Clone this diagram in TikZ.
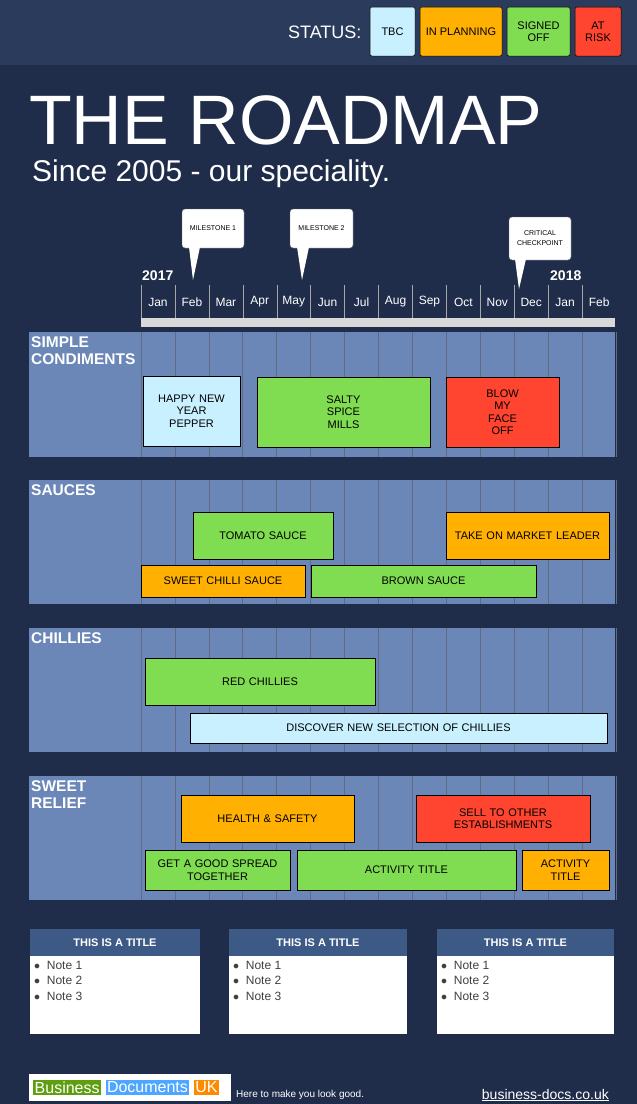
\documentclass[tikz,border=0pt]{standalone}
\usepackage{fontspec}
\setmainfont{Liberation Sans}
\definecolor{bg}{HTML}{1F2D4A}
\definecolor{topbar}{HTML}{2A3B5C}
\definecolor{lane}{HTML}{6A87B7}
\definecolor{cblue}{HTML}{C8F0FF}
\definecolor{corange}{HTML}{FFB000}
\definecolor{cgreen}{HTML}{80DC50}
\definecolor{cred}{HTML}{FF4530}
\definecolor{nhead}{HTML}{3D5A86}
\definecolor{lgreen}{HTML}{5E9E10}
\definecolor{lblue}{HTML}{4DA6FF}
\definecolor{lorange}{HTML}{FF8A00}
\begin{document}
\begin{tikzpicture}[x=1pt,y=-1pt,
  bar/.style={draw=black,line width=0.6pt,align=center,font=\fontsize{11}{12.5}\selectfont,inner sep=1pt},
  stat/.style={draw=black,line width=0.5pt,rounded corners=2pt,align=center,font=\fontsize{11}{12}\selectfont,inner sep=0},
  lanelbl/.style={anchor=north west,white,font=\bfseries\fontsize{15.5}{17}\selectfont,align=left,inner sep=0},
  callout/.style={fill=white,draw=black!60,rounded corners=3pt,align=center,font=\fontsize{7}{10}\selectfont}]
\fill[bg] (0,0) rectangle (637,1104);
\fill[topbar] (0,0) rectangle (637,65);
\useasboundingbox (0,0) rectangle (637,1104);
% status
\node[white,font=\fontsize{18}{19}\selectfont,anchor=east] (st) at (365,32) {STATUS:};
\node[stat,fill=cblue,minimum width=45pt,minimum height=49pt] (s1) at (392.5,31.5) {TBC};
\node[stat,fill=corange,minimum width=82pt,minimum height=49pt] (s2) at (461,31.5) {IN PLANNING};
\node[stat,fill=cgreen,minimum width=63pt,minimum height=49pt] (s3) at (538.5,31.5) {SIGNED\\OFF};
\node[stat,fill=cred,minimum width=46pt,minimum height=49pt] (s4) at (598,31.5) {AT\\RISK};
% title
\node[white,anchor=west,inner sep=0,font=\fontsize{70}{74}\selectfont] (title) at (29,120) {THE ROADMAP};
\node[white,anchor=west,inner sep=0,font=\fontsize{30}{32}\selectfont] (sub) at (32,174) {Since 2005 - our speciality.};
% years
\node[white,font=\bfseries\fontsize{14}{15}\selectfont,anchor=west,inner sep=0] (y1) at (142,276) {2017};
\node[white,font=\bfseries\fontsize{14}{15}\selectfont,anchor=west,inner sep=0] (y2) at (550,276) {2018};
% months
\foreach \m [count=\i from 0] in {Jan,Feb,Mar,Apr,May,Jun,Jul,Aug,Sep,Oct,Nov,Dec,Jan,Feb}{
  \pgfmathsetmacro\xa{141+\i*33.93}
  \node[white,font=\fontsize{12}{13}\selectfont] (m\i) at (\xa+17,302) {\m};
  \draw[gray!70] (\xa,285) -- (\xa,327);
}
\fill[black!15] (141,318) rectangle (615,327);
% lanes
\foreach \ya/\yb in {332/457,480/604,628/752,776/900}{
  \fill[lane] (29,\ya) rectangle (615,\yb);
  \foreach \i in {0,...,14}{\draw[bg!70,line width=0.6pt] (141+\i*33.93,\ya) -- (141+\i*33.93,\yb);}
}
\node[lanelbl] (l1) at (31,336) {SIMPLE\\CONDIMENTS};
\node[lanelbl] (l2) at (31,484) {SAUCES};
\node[lanelbl] (l3) at (31,632) {CHILLIES};
\node[lanelbl] (l4) at (31,780) {SWEET\\RELIEF};
% bars
\newcommand\bb[7]{\node[bar,fill=#6,minimum width=#3-#2,minimum height=#5-#4,text width=#3-#2-6] (#1) at ({(#2+#3)/2},{(#4+#5)/2}) {#7};}
\bb{b1}{143}{240}{376}{446}{cblue}{HAPPY NEW\\YEAR\\PEPPER}
\bb{b2}{257}{430}{377}{447}{cgreen}{SALTY\\SPICE\\MILLS}
\bb{b3}{446}{559}{377}{447}{cred}{BLOW\\MY\\FACE\\OFF}
\bb{b4}{193}{333}{512}{559}{cgreen}{TOMATO SAUCE}
\bb{b5}{446}{609}{512}{559}{corange}{TAKE ON MARKET LEADER}
\bb{b6}{141}{305}{565}{597}{corange}{SWEET CHILLI SAUCE}
\bb{b7}{311}{536}{565}{597}{cgreen}{BROWN SAUCE}
\bb{b8}{145}{375}{658}{705}{cgreen}{RED CHILLIES}
\bb{b9}{190}{607}{713}{743}{cblue}{DISCOVER NEW SELECTION OF CHILLIES}
\bb{b10}{181}{354}{795}{842}{corange}{HEALTH \& SAFETY}
\bb{b11}{416}{590}{795}{842}{cred}{SELL TO OTHER\\ESTABLISHMENTS}
\bb{b12}{145}{290}{850}{890}{cgreen}{GET A GOOD SPREAD\\TOGETHER}
\bb{b13}{297}{516}{850}{890}{cgreen}{ACTIVITY TITLE}
\bb{b14}{522}{609}{850}{890}{corange}{ACTIVITY\\TITLE}
% callouts
\node[callout,minimum width=62pt,minimum height=39pt] (c1) at (213,228.5) {MILESTONE 1};
\node[callout,minimum width=63pt,minimum height=39pt] (c2) at (321.5,228.5) {MILESTONE 2};
\node[callout,minimum width=62pt,minimum height=43pt] (c3) at (540,238.5) {CRITICAL\\CHECKPOINT};
\coordinate (p1) at (193,280);\coordinate (p2) at (302,280);\coordinate (p3) at (519,289);
\fill[white] (189,247) -- (p1) -- (200,247) -- cycle;
\fill[white] (297,247) -- (p2) -- (309,247) -- cycle;
\fill[white] (515,259) -- (p3) -- (526,259) -- cycle;
% notes
\foreach \xa/\xb/\n in {30/200/n1,229/407/n2,437/614/n3}{
  \fill[white] (\xa,956) rectangle (\xb,1034);
  \fill[nhead] (\xa,929) rectangle (\xb,956);
  \node[white,font=\bfseries\fontsize{11}{12}\selectfont] (\n) at ({(\xa+\xb)/2},943) {THIS IS A TITLE};
  \node[anchor=north west,align=left,font=\fontsize{12}{15.5}\selectfont,text=black!75,inner sep=0] (\n b) at (\xa+4,961) {$\bullet$\ \ Note 1\\$\bullet$\ \ Note 2\\$\bullet$\ \ Note 3};
}
% footer
\fill[white] (29,1074) rectangle (231,1101);
\node[fill=lgreen,text=white,inner sep=1.5pt,anchor=west,font=\fontsize{16}{17}\selectfont] (f1) at (33,1087.5) {Business};
\node[fill=lblue,text=white,inner sep=1.5pt,anchor=west,font=\fontsize{16}{17}\selectfont] (f2) at (f1.east) [xshift=4pt] {Documents};
\node[fill=lorange,text=white,inner sep=1.5pt,anchor=west,font=\fontsize{16}{17}\selectfont] (f3) at (f2.east) [xshift=4pt] {UK};
\node[white,anchor=west,font=\fontsize{10}{11}\selectfont,inner sep=0] (tag) at (236,1095) {Here to make you look good.};
\node[white,anchor=east,font=\fontsize{14}{15}\selectfont,inner sep=0] (url) at (609,1095) {\underline{business-docs.co.uk}};
\end{tikzpicture}
\end{document}
